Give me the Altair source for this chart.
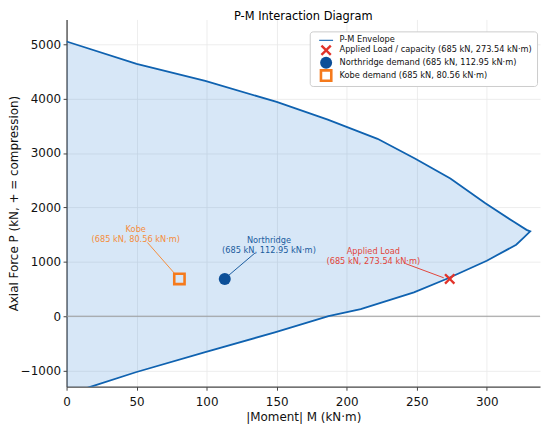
import altair as alt
import pandas as pd

# ---- data ----
env_M = [0, 50, 99, 150, 186.5, 222, 249, 274, 299, 319, 328.4, 331, 326, 321,
         300, 272, 248, 210, 187, 148.7, 99, 49.4, 17.5, 0]
env_P = [5050, 4640, 4325, 3940, 3613, 3261, 2896, 2531, 2075, 1739, 1588, 1560, 1436, 1314,
         1020, 693, 438, 130, 0, -297, -660, -1030, -1295, -1440]

series_names = [
    "P-M Envelope",
    "Applied Load / capacity (685 kN, 273.54 kN·m)",
    "Northridge demand (685 kN, 112.95 kN·m)",
    "Kobe demand (685 kN, 80.56 kN·m)",
]
point_M = [273.54, 112.95, 80.56]
point_P = [685, 685, 685]

ann_text = ["Kobe\n(685 kN, 80.56 kN·m)",
            "Northridge\n(685 kN, 112.95 kN·m)",
            "Applied Load\n(685 kN, 273.54 kN·m)"]
ann_M = [49.4, 144.5, 219]
ann_P = [1581, 1380, 1180]
arrow_M0 = [57.7, 134.5, 242]
arrow_P0 = [1356, 1162, 967]
arrow_M1 = [77.8, 115.6, 269.3]
arrow_P1 = [766, 748, 706]

x_ticks = [0, 50, 100, 150, 200, 250, 300]
y_ticks = [-1000, 0, 1000, 2000, 3000, 4000, 5000]

# ---- styles ----
ann_colors = ["#f58d3c", "#1a5c9e", "#e2453a"]
series_colors = ["#0f62b0", "#e2332a", "#0c4f98", "#f57a1c"]
X_PATH = ("M-1,-0.7L-0.7,-1L0,-0.3L0.7,-1L1,-0.7L0.3,0L1,0.7L0.7,1L0,0.3L-0.7,1L-1,0.7L-0.3,0Z")
SQ_PATH = "M-1,-1L1,-1L1,1L-1,1ZM-0.6,-0.6L-0.6,0.6L0.6,0.6L0.6,-0.6Z"
LINE_PATH = "M-1.4,-0.11L1.4,-0.11L1.4,0.11L-1.4,0.11Z"
series_shapes = [LINE_PATH, X_PATH, "circle", SQ_PATH]
series_sizes = [100, 169, 121, 100]

env_df = pd.DataFrame({"M": env_M, "P": env_P, "i": list(range(len(env_M)))})
env_df["base"] = 0
pts_df = pd.DataFrame({"series": series_names[1:], "M": point_M, "P": point_P})
one_row = pd.DataFrame({"k": [0]})

x_scale = alt.Scale(domain=[0, 338], nice=False, zero=False)
y_scale = alt.Scale(domain=[-1296, 5455], nice=False, zero=False)
x_enc = alt.X("M:Q", scale=x_scale,
              axis=alt.Axis(title="|Moment| M (kN·m)", values=x_ticks, format="d",
                            labelFlush=False))
y_enc = alt.Y("P:Q", scale=y_scale,
              axis=alt.Axis(title="Axial Force P (kN, + = compression)", values=y_ticks,
                            format="d", labelFlush=False))

area = alt.Chart(env_df).mark_area(orient="horizontal", color="#2a7fd4", opacity=0.19,
                                   clip=True).encode(x=x_enc, x2="base:Q", y=y_enc)
zero = alt.Chart(one_row).mark_rule(color="#9a9a9a", strokeWidth=1).encode(y=alt.datum(0))
line = alt.Chart(env_df).mark_line(color=series_colors[0], strokeWidth=1.8,
                                   clip=True).encode(x=x_enc, y=y_enc, order="i:Q")

legend = alt.Legend(title=None, orient="none", legendX=245, legendY=12)
points = alt.Chart(pts_df).mark_point(filled=True, opacity=1, strokeWidth=0).encode(
    x=x_enc, y=y_enc,
    color=alt.Color("series:N", scale=alt.Scale(domain=series_names, range=series_colors),
                    legend=legend),
    shape=alt.Shape("series:N", scale=alt.Scale(domain=series_names, range=series_shapes),
                    legend=legend),
    size=alt.Size("series:N", scale=alt.Scale(domain=series_names, range=series_sizes),
                  legend=None),
)

layers = [area, zero, line]
for k in range(len(ann_text)):
    layers.append(
        alt.Chart(one_row).mark_rule(color=ann_colors[k], strokeWidth=1).encode(
            x=alt.datum(arrow_M0[k]), y=alt.datum(arrow_P0[k]),
            x2=alt.datum(arrow_M1[k]), y2=alt.datum(arrow_P1[k]))
    )
    layers.append(
        alt.Chart(one_row).mark_text(align="center", baseline="middle", fontSize=8.3,
                                     lineHeight=9.6, lineBreak="\n", color=ann_colors[k],
                                     font="DejaVu Sans").encode(
            x=alt.datum(ann_M[k]), y=alt.datum(ann_P[k]), text=alt.value(ann_text[k]))
    )
layers.append(points)

chart = alt.layer(*layers).properties(
    width=477, height=370,
    title=alt.TitleParams("P-M Interaction Diagram", fontSize=11.5, fontWeight="normal",
                          font="DejaVu Sans", color="#000", anchor="middle", frame="group",
                          offset=-3.5),
    padding={"left": 59, "top": 10, "right": 2, "bottom": 36},
    autosize=alt.AutoSizeParams(type="none"),
).configure(font="DejaVu Sans").configure_view(stroke=None).configure_axis(
    labelFont="DejaVu Sans", labelFontSize=12, labelColor="#111",
    titleFont="DejaVu Sans", titleFontSize=12, titleFontWeight="normal", titleColor="#111",
    domainColor="#444", domainWidth=1.3, tickColor="#444", tickWidth=1, tickSize=3.5,
    gridColor="#e8e8e8", gridWidth=0.8,
).configure_axisX(labelPadding=6.5, titlePadding=4).configure_axisY(
    labelPadding=2.5, titlePadding=0
).configure_legend(
    fillColor="white", strokeColor="#cccccc", strokeWidth=1, cornerRadius=3, padding=4,
    labelFont="DejaVu Sans", labelFontSize=8.3, labelColor="#111", symbolSize=100,
    rowPadding=0, labelLimit=400, symbolOffset=6, labelOffset=7, symbolStrokeWidth=0,
)

chart.save("out.html", embed_options={"renderer": "svg", "actions": False})
